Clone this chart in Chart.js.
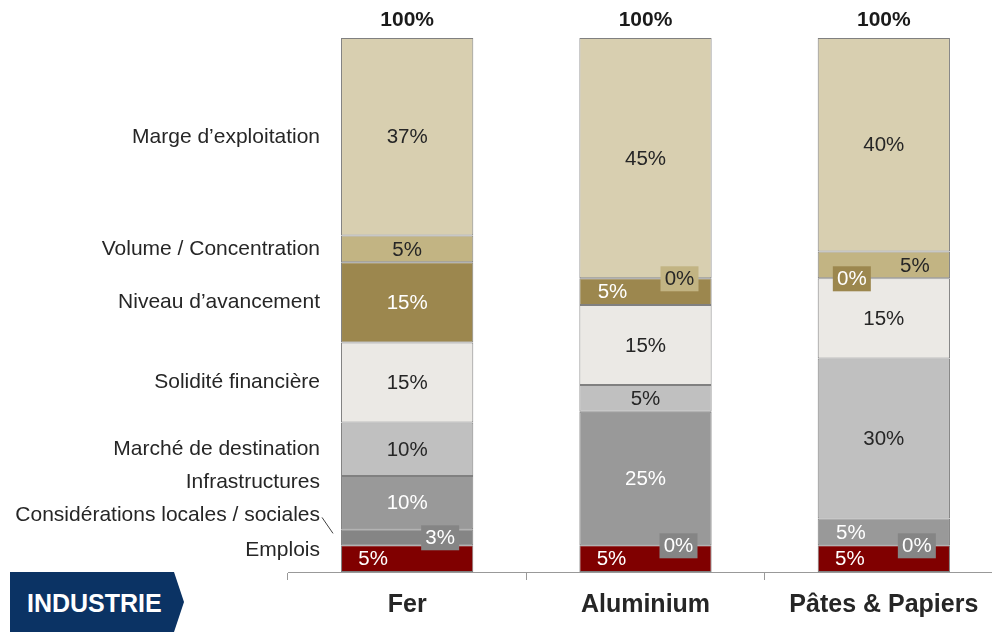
<!DOCTYPE html>
<html>
<head>
<meta charset="utf-8">
<script src="https://cdn.jsdelivr.net/npm/chart.js@4/dist/chart.umd.min.js"></script>
<style>
html,body{margin:0;padding:0;background:#fff;overflow:hidden;width:992px;height:632px;}
#wrap{position:absolute;left:0;top:0;width:1010px;height:632px;}
#tag{position:absolute;left:10px;top:572px;width:174px;height:60px;background:#0b3364;
 clip-path:polygon(0 0,164px 0,174px 30px,164px 60px,0 60px);
 color:#fff;font:bold 25px "Liberation Sans",Arial,sans-serif;line-height:62px;padding-left:17px;box-sizing:border-box;}
</style>
</head>
<body>
<div id="wrap"><canvas id="c" width="1010" height="632"></canvas></div>
<div id="tag">INDUSTRIE</div>
<script>
// ---- data ----
const categories = ['Fer', 'Aluminium', 'Pâtes & Papiers'];
const seriesNames = ['Emplois', 'Considérations locales / sociales', 'Infrastructures', 'Marché de destination',
  'Solidité financière', 'Niveau d’avancement', 'Volume / Concentration', 'Marge d’exploitation'];
const emplois       = [5, 5, 5];
const considerations = [3, 0, 0];
const infrastructures = [10, 25, 5];
const marche        = [10, 5, 30];
const solidite      = [15, 15, 15];
const niveau        = [15, 5, 0];
const volume        = [5, 0, 5];
const marge         = [37, 45, 40];

const seriesValues = [emplois, considerations, infrastructures, marche, solidite, niveau, volume, marge];
const colors = ['#800000', '#858585', '#999999', '#c0c0c0', '#ebe9e5', '#9c874e', '#c2b483', '#d8cfb0'];
const textColors = ['#fff', '#fff', '#fff', '#262626', '#262626', '#fff', '#262626', '#262626'];
// label horizontal shifts per series & category
const shifts = {0: [-34, -34, -34], 1: [33, 33, 33], 2: [0, 0, -33], 5: [0, -33, -32], 6: [0, 34, 31]};
const FONT = '"Liberation Sans", Arial, sans-serif';

const labelPlugin = {
  id: 'customLabels',
  afterDatasetsDraw(chart) {
    const ctx = chart.ctx;
    const ys = chart.scales.y;
    ctx.save();
    ctx.textAlign = 'center';
    ctx.textBaseline = 'middle';
    // value labels
    chart.data.datasets.forEach((ds, i) => {
      const meta = chart.getDatasetMeta(i);
      meta.data.forEach((el, j) => {
        const v = ds.data[j];
        const dx = (shifts[i] && shifts[i][j]) || 0;
        const x = el.x + dx;
        const y = (el.y + el.base) / 2;
        const boxed = (i === 1) || v === 0;
        ctx.font = '20.5px ' + FONT;
        if (boxed) {
          ctx.fillStyle = colors[i];
          ctx.fillRect(x - 19, y - 12, 38, 25);
        }
        ctx.fillStyle = (boxed && i === 6) ? '#262626' : textColors[i];
        ctx.fillText(v + '%', x, y + 1);
      });
    });
    // totals
    const meta0 = chart.getDatasetMeta(0);
    const top = ys.getPixelForValue(100);
    ctx.font = 'bold 21px ' + FONT;
    ctx.fillStyle = '#1a1a1a';
    categories.forEach((c, j) => {
      const sum = seriesValues.reduce((a, s) => a + s[j], 0);
      ctx.fillText(sum + '%', meta0.data[j].x, top - 18);
    });
    // left series names, anchored on the first bar
    let cum = 0;
    const centers = seriesValues.map(s => { const c = cum + s[0] / 2; cum += s[0]; return c; });
    const anchors = centers.slice();
    anchors[0] = 4.1; anchors[1] = 10.6; anchors[2] = 16.9;
    ctx.font = '21px ' + FONT;
    ctx.textAlign = 'right';
    ctx.fillStyle = '#262626';
    seriesNames.forEach((n, i) => {
      ctx.fillText(n, 320, ys.getPixelForValue(anchors[i]));
    });
    // leader line for "Considérations"
    ctx.strokeStyle = '#404040';
    ctx.lineWidth = 1;
    ctx.beginPath();
    const ly = ys.getPixelForValue(anchors[1]);
    ctx.moveTo(322, ly + 2);
    ctx.lineTo(333, ly + 18);
    ctx.stroke();
    ctx.restore();
  }
};

new Chart(document.getElementById('c'), {
  type: 'bar',
  data: {
    labels: categories,
    datasets: seriesValues.map((vals, i) => ({
      label: seriesNames[i],
      data: vals,
      backgroundColor: colors[i],
      borderColor: '#808080',
      borderWidth: 1,
      borderSkipped: false,
      categoryPercentage: 1,
      barPercentage: 0.555
    }))
  },
  options: {
    responsive: false,
    devicePixelRatio: 1,
    animation: false,
    layout: {padding: {left: 288, right: 7, top: 38, bottom: 2}},
    plugins: {legend: {display: false}, tooltip: {enabled: false}},
    scales: {
      x: {
        stacked: true,
        grid: {offset: true, drawOnChartArea: false, tickLength: 8, color: '#999', lineWidth: 1},
        border: {color: '#999', width: 1},
        ticks: {font: {family: FONT, size: 25, weight: 'bold'}, color: '#262626', padding: 10}
      },
      y: {stacked: true, display: false, min: 0, max: 100}
    }
  },
  plugins: [labelPlugin]
});
</script>
</body>
</html>
